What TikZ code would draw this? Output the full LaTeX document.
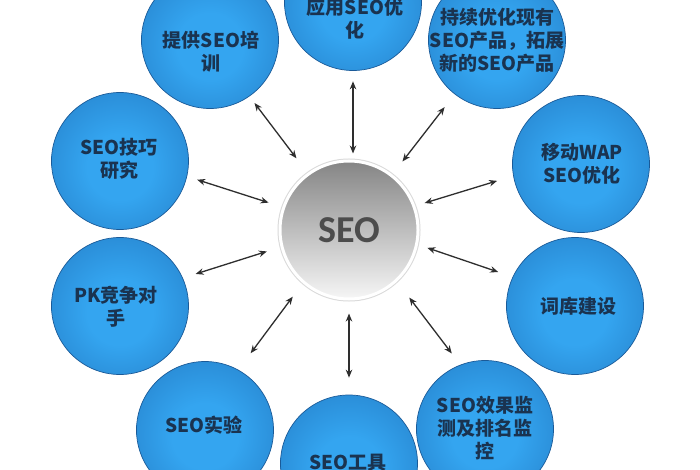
\documentclass[tikz,border=0pt]{standalone}
\usepackage{fontspec}
\setmainfont{Carlito}
\newfontfamily\cjk{Noto Sans CJK SC}
\usetikzlibrary{arrows.meta}
\definecolor{bIn}{HTML}{34A5F0}
\definecolor{bOut}{HTML}{1C6AB3}
\definecolor{bEdge}{HTML}{1A5A98}
\definecolor{txt}{HTML}{1A3350}
\definecolor{hubTop}{HTML}{858585}
\definecolor{hubBot}{HTML}{F6F6F6}
\definecolor{arr}{HTML}{2E2E2E}
\pgfdeclareradialshading{bubshade}{\pgfpoint{0bp}{-3bp}}{color(0bp)=(bIn); color(12bp)=(bIn); color(50bp)=(bOut)}
\tikzset{
  bubble/.style={circle, minimum size=137pt, inner sep=0pt, shading=bubshade, draw=bEdge, line width=0.7pt},
  btxt/.style={font=\cjk\bfseries\fontsize{19}{23}\selectfont, text=txt, align=center, inner sep=0pt},
  hubring/.style={circle, minimum size=143pt, inner sep=0pt, fill=gray!30},
  hubnode/.style={circle, minimum size=138pt, inner sep=0pt, top color=hubTop, bottom color=hubBot, draw=white, line width=3pt, text=black!70, font=\bfseries\fontsize{38}{40}\selectfont},
  conn/.style={draw=arr, line width=1.3pt, {Stealth[length=8pt,width=6.5pt]}-{Stealth[length=8pt,width=6.5pt]}}
}
\begin{document}
\begin{tikzpicture}[x=1pt,y=-1pt]
\useasboundingbox[fill=white] (0,0) rectangle (700,470);
% bubbles
\node[bubble] (b1) at (210,40) {};
\node[bubble] (b2) at (353,2) {};
\node[bubble] (b3) at (497,40) {};
\node[bubble] (b4) at (581,164) {};
\node[bubble] (b5) at (575,306) {};
\node[bubble] (b6) at (485,429) {};
\node[bubble] (b7) at (349,463.5) {};
\node[bubble] (b8) at (205,430) {};
\node[bubble] (b9) at (120,306) {};
\node[bubble] (b10) at (120,161) {};
% hub
\node[hubring] (ring) at (349,230) {};
\node[hubnode] (hub) at (349,230) {SEO};
% texts
\node[btxt] (t1) at (211,52) {提供SEO培\\训};
\node[btxt] (t2) at (355,19) {应用SEO优\\化};
\node[btxt] (t3) at (497,40) {持续优化现有\\SEO产品，拓展\\新的SEO产品};
\node[btxt] (t4) at (582,164) {移动WAP\\SEO优化};
\node[btxt] (t5) at (578,306) {词库建设};
\node[btxt] (t6) at (485,428) {SEO效果监\\测及排名监\\控};
\node[btxt] (t7) at (348,463) {SEO工具};
\node[btxt] (t8) at (204,425) {SEO实验};
\node[btxt] (t9) at (116,307) {PK竞争对\\手};
\node[btxt] (t10) at (119,159) {SEO技巧\\研究};
% connectors
\draw[conn, shorten <=8.3pt, shorten >=18.4pt] (b1.-55) -- (hub.126);
\draw[conn, shorten <=10.5pt, shorten >=6pt] (b2.south) -- (b2.south |- hub.north);
\draw[conn, shorten <=16.3pt, shorten >=16.4pt] (b3.-128) -- (hub.52);
\draw[conn, shorten <=16.8pt, shorten >=9.8pt] (b4.190) -- (hub.20);
\draw[conn, shorten <=15.2pt, shorten >=9.9pt] (b5.155) -- (hub.-12);
\draw[conn, shorten <=14.1pt, shorten >=20.1pt] (b6.111) -- (hub.-47);
\draw[conn, shorten <=17pt, shorten >=13pt] (b7.north) -- (hub.south);
\draw[conn, shorten <=20.6pt, shorten >=16.8pt] (b8.61) -- (hub.229);
\draw[conn, shorten <=13.4pt, shorten >=14.4pt] (b9.24) -- (hub.194);
\draw[conn, shorten <=10.6pt, shorten >=14.5pt] (b10.-13) -- (hub.161);
\end{tikzpicture}
\end{document}
